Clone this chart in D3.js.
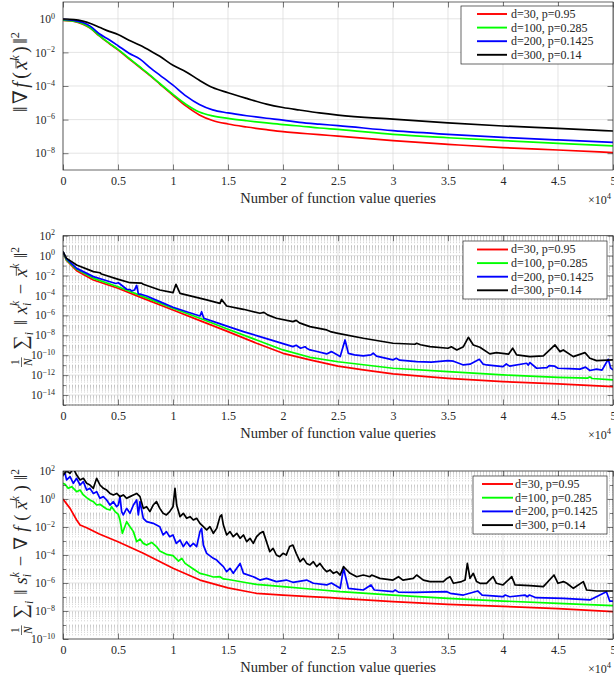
<!DOCTYPE html>
<html><head><meta charset="utf-8">
<script src="https://cdn.jsdelivr.net/npm/d3@7/dist/d3.min.js"></script>
<style>
body{margin:0;background:#fff}
svg{display:block;font-family:"Liberation Serif","DejaVu Serif",serif}
text{font-family:"Liberation Serif","DejaVu Serif",serif;fill:#262626}
</style></head><body>
<svg id="c" width="614" height="681"></svg>
<script>
// ---------------- DATA ----------------
const seriesNames = ["d=30, p=0.95", "d=100, p=0.285", "d=200, p=0.1425", "d=300, p=0.14"];
const seriesColors = ["#ff0000", "#00ff00", "#0000ff", "#000000"];
const xTickValues = [0, 0.5, 1, 1.5, 2, 2.5, 3, 3.5, 4, 4.5, 5];           // in units of 10^4 queries
const xTickLabels = ["0", "0.5", "1", "1.5", "2", "2.5", "3", "3.5", "4", "4.5", "5"];
const xAxisTitle = "Number of function value queries";
const p1YTickExp = [-8, -6, -4, -2, 0];
const p2YTickExp = [-14, -12, -10, -8, -6, -4, -2, 0, 2];
const p3YTickExp = [-10, -8, -6, -4, -2, 0, 2];

// values are log10 of the plotted quantity, x in units of 10^4
const p1_x = [0, 0.1, 0.18, 0.25, 0.33, 0.42, 0.5, 0.6, 0.7, 0.8, 0.88, 1.0, 1.12, 1.24, 1.36, 1.5, 1.67, 1.85, 2.0, 2.15, 2.33, 2.5, 3, 3.5, 4, 4.5, 5];
const p1_red   = [-0.1, -0.15, -0.32, -0.57, -1.02, -1.47, -1.85, -2.38, -2.9, -3.43, -3.88, -4.55, -5.2, -5.72, -6.05, -6.26, -6.44, -6.6, -6.72, -6.8, -6.9, -6.98, -7.25, -7.47, -7.67, -7.81, -7.96];
const p1_green = [-0.08, -0.14, -0.3, -0.55, -1.0, -1.45, -1.82, -2.35, -2.87, -3.4, -3.85, -4.5, -5.1, -5.55, -5.78, -5.93, -6.07, -6.2, -6.3, -6.38, -6.5, -6.58, -6.88, -7.08, -7.25, -7.41, -7.57];
const p1_blue  = [-0.04, -0.1, -0.22, -0.45, -0.89, -1.25, -1.6, -2.05, -2.4, -2.95, -3.35, -3.95, -4.6, -5.1, -5.42, -5.6, -5.77, -5.92, -6.03, -6.16, -6.27, -6.36, -6.66, -6.88, -7.06, -7.21, -7.35];
const p1_black = [-0.02, -0.05, -0.14, -0.28, -0.5, -0.75, -0.93, -1.28, -1.58, -1.93, -2.23, -2.77, -3.16, -3.66, -4.09, -4.4, -4.74, -5.08, -5.28, -5.43, -5.6, -5.73, -5.97, -6.19, -6.38, -6.52, -6.68];

const p2_red = [[0,0.39],[0.03,-0.45],[0.124,-1.51],[0.276,-2.45],[0.5,-3.28],[0.73,-4.29],[1.0,-5.46],[1.245,-6.53],[1.5,-7.63],[1.76,-8.8],[2.0,-9.81],[2.245,-10.47],[2.5,-11.1],[2.73,-11.48],[3.0,-11.88],[3.5,-12.32],[4.0,-12.65],[4.5,-12.88],[5.0,-13.15]];
const p2_green = [[0,0.39],[0.03,-0.4],[0.124,-1.38],[0.276,-2.28],[0.5,-3.12],[0.73,-4.12],[1.0,-5.29],[1.245,-6.29],[1.5,-7.4],[1.76,-8.47],[2.0,-9.47],[2.245,-10.21],[2.5,-10.66],[3.0,-11.31],[3.5,-11.65],[4.0,-11.98],[4.5,-12.22],[4.77,-12.3],[4.79,-12.18],[4.81,-12.34],[5.0,-12.48]];
const p2_blue = [[0,0.39],[0.03,-0.3],[0.124,-1.28],[0.276,-2.11],[0.427,-2.62],[0.48,-2.8],[0.503,-2.72],[0.53,-2.95],[0.579,-3.38],[0.61,-3.42],[0.624,-3.55],[0.65,-3.45],[0.67,-3.0],[0.685,-3.85],[0.715,-3.9],[0.76,-4.05],[0.88,-4.62],[1.0,-5.19],[1.124,-5.63],[1.245,-6.06],[1.26,-5.63],[1.28,-6.29],[1.397,-6.73],[1.503,-7.13],[1.64,-7.63],[1.79,-8.13],[1.94,-8.64],[2.09,-9.14],[2.12,-9.0],[2.16,-9.3],[2.2,-9.15],[2.215,-9.3],[2.245,-9.47],[2.3,-9.6],[2.397,-9.87],[2.44,-9.64],[2.5,-10.0],[2.52,-10.14],[2.564,-8.47],[2.594,-9.81],[2.65,-9.97],[2.73,-10.07],[2.8,-9.97],[2.82,-9.8],[2.85,-10.1],[3.0,-10.47],[3.03,-10.31],[3.06,-10.5],[3.215,-10.64],[3.35,-10.7],[3.5,-10.54],[3.55,-10.6],[3.64,-10.98],[3.7,-10.9],[3.785,-10.41],[3.82,-10.9],[3.85,-10.98],[4.0,-11.14],[4.03,-10.88],[4.06,-11.1],[4.215,-10.81],[4.23,-11.0],[4.245,-10.74],[4.306,-11.31],[4.4,-11.25],[4.42,-11.05],[4.47,-11.1],[4.5,-11.31],[4.6,-11.35],[4.7,-11.4],[4.75,-11.2],[4.79,-11.54],[4.85,-11.4],[4.9,-11.5],[4.957,-10.41],[4.98,-11.3],[5.0,-11.48]];
const p2_black = [[0,0.39],[0.03,-0.25],[0.124,-0.94],[0.276,-1.61],[0.336,-1.72],[0.35,-1.85],[0.503,-2.38],[0.609,-2.72],[0.715,-2.76],[0.73,-2.88],[0.88,-3.45],[1.0,-3.72],[1.027,-2.88],[1.064,-3.79],[1.185,-4.12],[1.306,-4.45],[1.427,-4.79],[1.442,-4.4],[1.488,-5.06],[1.64,-5.39],[1.79,-5.79],[1.827,-5.7],[1.86,-5.95],[1.94,-6.29],[2.09,-6.63],[2.12,-6.5],[2.15,-6.75],[2.245,-7.13],[2.397,-7.46],[2.43,-7.63],[2.5,-7.8],[2.73,-8.3],[3.0,-8.8],[3.2,-8.9],[3.215,-8.8],[3.25,-8.95],[3.336,-9.14],[3.5,-9.3],[3.53,-9.15],[3.58,-9.47],[3.64,-9.14],[3.685,-8.2],[3.73,-8.97],[3.79,-9.2],[3.88,-9.87],[3.94,-9.74],[4.05,-9.9],[4.088,-9.3],[4.124,-9.97],[4.245,-10.14],[4.367,-10.07],[4.473,-8.97],[4.518,-9.64],[4.548,-9.47],[4.639,-10.14],[4.745,-9.74],[4.79,-10.31],[4.85,-10.54],[4.95,-10.5],[5.0,-10.47]];

const p3_red = [[0,0.0],[0.064,-0.67],[0.124,-1.5],[0.155,-1.86],[0.215,-2.05],[0.33,-2.5],[0.5,-3.05],[0.73,-3.88],[1.0,-4.95],[1.245,-5.79],[1.5,-6.35],[1.76,-6.74],[2.0,-6.86],[2.245,-6.98],[2.43,-7.05],[2.52,-7.1],[3.0,-7.33],[3.5,-7.52],[4.0,-7.67],[4.5,-7.83],[5.0,-8.05]];
const p3_green = [[0,1.12],[0.018,1.05],[0.048,0.76],[0.079,0.88],[0.124,0.52],[0.155,0.64],[0.185,0.29],[0.215,0.1],[0.245,-0.07],[0.276,-0.19],[0.306,-0.43],[0.336,-0.38],[0.367,-0.55],[0.397,-0.71],[0.427,-0.79],[0.442,-0.55],[0.473,-0.9],[0.503,-1.1],[0.518,-1.5],[0.54,-2.45],[0.579,-1.62],[0.609,-1.98],[0.64,-2.33],[0.67,-3.05],[0.7,-2.86],[0.73,-3.17],[0.76,-3.29],[0.806,-3.1],[0.85,-3.4],[0.88,-3.71],[0.94,-3.95],[1.0,-4.05],[1.05,-4.43],[1.08,-4.24],[1.11,-4.6],[1.185,-5.0],[1.245,-5.31],[1.306,-5.43],[1.367,-5.57],[1.427,-5.55],[1.458,-5.71],[1.503,-5.75],[1.67,-5.98],[1.76,-6.1],[2.0,-6.26],[2.245,-6.43],[2.52,-6.62],[3.0,-6.86],[3.5,-7.1],[4.0,-7.29],[4.5,-7.45],[5.0,-7.62]];
const p3_blue = [[0,1.71],[0.018,1.83],[0.033,1.36],[0.064,1.6],[0.094,1.12],[0.124,1.48],[0.155,1.0],[0.185,1.24],[0.215,0.64],[0.245,0.76],[0.276,0.4],[0.306,0.52],[0.336,0.05],[0.367,0.17],[0.397,-0.07],[0.427,-0.43],[0.458,-0.19],[0.488,-0.55],[0.503,-0.43],[0.518,0.17],[0.533,-0.9],[0.548,-1.14],[0.579,-0.67],[0.609,-1.02],[0.64,-0.43],[0.67,-0.07],[0.685,-1.14],[0.7,-0.19],[0.73,-1.38],[0.76,-1.62],[0.82,-1.74],[0.88,-1.98],[0.91,-2.57],[0.94,-2.33],[0.97,-2.69],[1.0,-2.57],[1.03,-3.17],[1.064,-2.93],[1.094,-3.4],[1.124,-3.05],[1.155,-3.4],[1.185,-3.17],[1.215,-3.4],[1.245,-2.33],[1.26,-2.1],[1.276,-3.29],[1.306,-3.88],[1.367,-4.24],[1.397,-4.36],[1.427,-4.6],[1.458,-4.83],[1.488,-5.19],[1.518,-4.95],[1.548,-5.31],[1.61,-4.6],[1.64,-5.31],[1.73,-5.55],[1.79,-5.79],[1.85,-5.67],[1.94,-5.9],[2.03,-5.79],[2.09,-5.95],[2.215,-5.79],[2.276,-6.02],[2.397,-6.14],[2.44,-6.0],[2.52,-6.38],[2.55,-4.95],[2.565,-5.43],[2.594,-6.38],[2.73,-6.5],[2.8,-6.14],[2.83,-6.5],[3.0,-6.62],[3.02,-6.5],[3.05,-6.65],[3.2,-6.67],[3.49,-6.62],[3.52,-6.74],[3.64,-6.86],[3.77,-6.57],[3.81,-6.86],[4.0,-6.98],[4.02,-6.86],[4.06,-6.98],[4.2,-6.86],[4.22,-6.98],[4.24,-6.86],[4.3,-7.05],[4.55,-7.1],[4.79,-7.21],[4.94,-6.62],[4.97,-7.29],[5.0,-7.29]];
const p3_black = [[0,1.71],[0.033,2.0],[0.064,1.83],[0.094,2.19],[0.124,1.71],[0.155,1.36],[0.185,1.48],[0.215,1.12],[0.245,1.0],[0.276,0.76],[0.306,1.48],[0.321,1.24],[0.336,1.0],[0.367,0.76],[0.397,0.64],[0.427,0.4],[0.458,0.29],[0.488,0.4],[0.518,0.17],[0.548,0.29],[0.579,0.05],[0.609,0.17],[0.64,0.29],[0.67,0.4],[0.7,0.17],[0.73,-0.67],[0.76,-0.55],[0.79,-0.9],[0.82,-0.43],[0.85,-0.19],[0.88,-0.67],[0.91,-1.02],[0.94,-1.14],[0.97,-0.9],[1.0,-0.55],[1.018,0.76],[1.033,-0.43],[1.064,-1.26],[1.094,-1.02],[1.124,-1.38],[1.155,-1.26],[1.185,-1.5],[1.215,-1.38],[1.245,-1.74],[1.276,-1.98],[1.306,-2.21],[1.336,-1.98],[1.367,-2.45],[1.397,-2.1],[1.427,-1.26],[1.442,-1.14],[1.458,-1.86],[1.488,-2.57],[1.518,-2.33],[1.548,-2.69],[1.58,-2.45],[1.61,-2.81],[1.64,-2.57],[1.67,-3.05],[1.7,-2.81],[1.73,-3.17],[1.76,-2.69],[1.79,-2.45],[1.82,-2.33],[1.85,-3.05],[1.88,-3.76],[1.91,-3.52],[1.94,-4.0],[1.97,-4.12],[2.0,-3.88],[2.03,-4.0],[2.06,-3.4],[2.09,-3.29],[2.12,-3.88],[2.155,-4.48],[2.185,-4.24],[2.215,-4.6],[2.245,-4.71],[2.276,-4.48],[2.306,-4.83],[2.336,-4.6],[2.367,-4.95],[2.397,-5.19],[2.427,-5.07],[2.458,-5.31],[2.488,-5.19],[2.52,-5.43],[2.55,-4.83],[2.58,-5.07],[2.61,-5.31],[2.67,-5.55],[2.73,-5.43],[2.79,-5.55],[2.806,-5.43],[2.88,-5.67],[3.0,-5.79],[3.05,-5.55],[3.09,-5.79],[3.185,-5.67],[3.215,-5.43],[3.276,-5.79],[3.336,-5.9],[3.458,-5.9],[3.49,-5.67],[3.518,-5.55],[3.55,-6.02],[3.624,-5.9],[3.655,-5.79],[3.676,-4.6],[3.7,-5.67],[3.73,-5.31],[3.76,-5.9],[3.79,-6.02],[3.85,-6.02],[3.91,-5.55],[3.94,-6.02],[4.0,-6.14],[4.08,-5.55],[4.11,-6.14],[4.245,-6.19],[4.367,-6.26],[4.464,-5.43],[4.5,-6.02],[4.55,-5.9],[4.58,-6.02],[4.64,-6.38],[4.73,-5.9],[4.76,-6.5],[4.85,-6.57],[5.0,-6.57]];

// ---------------- LAYOUT ----------------
const svg = d3.select("#c");
svg.append("rect").attr("width", 614).attr("height", 681).attr("fill", "#fff");
const X0 = 63, X1 = 613;
const x = d3.scaleLinear().domain([0, 5]).range([X0, X1]);
const AX = "#262626";

const p1series = [p1_red, p1_green, p1_blue, p1_black].map(v => v.map((e, i) => [p1_x[i], e]));

const panels = [
  {top: 2, bottom: 170, ymin: -9, ymax: 1, ticks: p1YTickExp, minor: false,
   series: p1series, curve: d3.curveMonotoneX,
   legend: {x0: 461, x1: 613, y0: 6, y1: 64, lx0: 477, lx1: 507, tx: 511, ty0: 14, dy: 13.6},
   ylab: {kind: 1, bx: 27, cy: 72, len: 80, fs: 20}},
  {top: 235.7, bottom: 405, ymin: -15, ymax: 2, ticks: p2YTickExp, minor: true,
   series: [p2_red, p2_green, p2_blue, p2_black], curve: d3.curveLinear,
   legend: {x0: 463, x1: 607, y0: 241, y1: 299, lx0: 477, lx1: 508, tx: 511, ty0: 249.5, dy: 13.6},
   ylab: {kind: 2, bx: 26.5, cy: 307, len: 120, fs: 18.5}},
  {top: 471, bottom: 639, ymin: -10, ymax: 2, ticks: p3YTickExp, minor: true,
   series: [p3_red, p3_green, p3_blue, p3_black], curve: d3.curveLinear,
   legend: {x0: 473, x1: 607, y0: 476, y1: 534, lx0: 482, lx1: 513, tx: 515, ty0: 484, dy: 13.7},
   ylab: {kind: 3, bx: 26.5, cy: 552, len: 166, fs: 18.5}}
];

function supLabel(sel, base, sup, fsBase, fsSup) {
  sel.text(null);
  sel.append("tspan").attr("font-size", fsBase).text(base);
  sel.append("tspan").attr("font-size", fsSup).attr("dy", "-0.55em").text(sup);
}

// Math label builder (horizontal; rotated later)
function buildMath(g, items, fs, gap) {
  let cx = 0;
  items.forEach((it, idx) => {
    const extra = idx < items.length - 1 ? gap : 0;
    if (it.frac) {
      const s = fs * 0.62;
      const n = g.append("text").attr("font-size", s).text(it.frac[0]);
      const d = g.append("text").attr("font-size", s).attr("font-style", "italic").text(it.frac[1]);
      const wn = n.node().getComputedTextLength(), wd = d.node().getComputedTextLength();
      const w = Math.max(wn, wd) + 2;
      n.attr("x", cx + (w - wn) / 2).attr("y", -fs * 0.4);
      d.attr("x", cx + (w - wd) / 2).attr("y", fs * 0.3);
      g.append("line").attr("x1", cx).attr("x2", cx + w).attr("y1", -fs * 0.27).attr("y2", -fs * 0.27)
        .attr("stroke", AX).attr("stroke-width", 0.7);
      cx += w + fs * 0.1 + extra;
      return;
    }
    const sc = it.s || 1;
    const t = g.append("text").attr("x", cx).attr("y", it.dy || 0).attr("font-size", fs * sc)
      .attr("font-style", it.it ? "italic" : null).text(it.t);
    const w = t.node().getComputedTextLength();
    if (it.bar) {
      g.append("line").attr("x1", cx + w * 0.15).attr("x2", cx + w + fs * 0.04)
        .attr("y1", -fs * 0.55).attr("y2", -fs * 0.55).attr("stroke", AX).attr("stroke-width", 0.8);
    }
    let sw = 0, bw = 0;
    if (it.sup) {
      const s = g.append("text").attr("x", cx + w).attr("y", -fs * (it.supUp || 0.38)).attr("font-size", fs * 0.62)
        .attr("font-style", /[a-z]/.test(it.sup) ? "italic" : null).text(it.sup);
      sw = s.node().getComputedTextLength();
    }
    if (it.sub) {
      const s = g.append("text").attr("x", cx + w).attr("y", fs * (it.subDown || 0.24)).attr("font-size", fs * 0.62)
        .attr("font-style", "italic").text(it.sub);
      bw = s.node().getComputedTextLength();
    }
    cx += w + Math.max(sw, bw) + (it.sp || 0) + extra;
  });
  return cx;
}

const labelItems = {
  1: [{t: "\u2016"}, {t: "\u2207"}, {t: "f", it: true, sp: 1}, {t: "("}, {t: "x", it: true, bar: true, sup: "k"}, {t: ")"},
      {t: "\u2016", sup: "2", supUp: 0.42}],
  2: [{frac: ["1", "N"]}, {t: "\u2211", s: 1.1, sub: "i", subDown: 0.36, sp: 1}, {t: "\u2016"},
      {t: "x", it: true, sup: "k", sub: "i", sp: 1}, {t: "\u2212", sp: 1}, {t: "x", it: true, bar: true, sup: "k"},
      {t: "\u2016", sup: "2", supUp: 0.42}],
  3: [{frac: ["1", "N"]}, {t: "\u2211", s: 1.1, sub: "i", subDown: 0.36, sp: 1}, {t: "\u2016"},
      {t: "s", it: true, sup: "k", sub: "i", sp: 1}, {t: "\u2212", sp: 1}, {t: "\u2207"}, {t: "f", it: true, sp: 1}, {t: "("},
      {t: "x", it: true, bar: true, sup: "k"}, {t: ")"}, {t: "\u2016", sup: "2", supUp: 0.42}]
};

panels.forEach((P, pi) => {
  const y = d3.scaleLog().domain([Math.pow(10, P.ymin), Math.pow(10, P.ymax)]).range([P.bottom, P.top]);
  const g = svg.append("g");
  const cid = "clip" + pi;
  svg.append("clipPath").attr("id", cid).append("rect")
    .attr("x", X0).attr("y", P.top).attr("width", X1 - X0).attr("height", P.bottom - P.top);

  // minor grid
  if (P.minor) {
    const mv = [];
    for (let k = P.ymin; k < P.ymax; k++) {
      if (!P.ticks.includes(k)) mv.push(Math.pow(10, k));
      for (let m = 2; m <= 9; m++) mv.push(m * Math.pow(10, k));
    }
    g.append("g").selectAll("line").data(mv).join("line")
      .attr("x1", X0).attr("x2", X1).attr("y1", d => y(d)).attr("y2", d => y(d))
      .attr("stroke", "#b4b4b4").attr("stroke-width", 0.6).attr("stroke-dasharray", "1,2");
  }
  // major grid
  const gg = g.append("g");
  gg.selectAll("line.h").data(P.ticks).join("line").attr("class", "h")
    .attr("x1", X0).attr("x2", X1).attr("y1", d => y(Math.pow(10, d))).attr("y2", d => y(Math.pow(10, d)))
    .attr("stroke", "#d9d9d9").attr("stroke-width", 0.7);
  gg.selectAll("line.v").data(xTickValues).join("line").attr("class", "v")
    .attr("x1", d => x(d)).attr("x2", d => x(d)).attr("y1", P.top).attr("y2", P.bottom)
    .attr("stroke", "#d9d9d9").attr("stroke-width", 0.7);

  // series
  const line = d3.line().x(d => x(d[0])).y(d => y(Math.pow(10, d[1]))).curve(P.curve);
  const lg = g.append("g").attr("clip-path", `url(#${cid})`);
  P.series.forEach((s, i) => {
    lg.append("path").datum(s).attr("d", line).attr("fill", "none")
      .attr("stroke", seriesColors[i]).attr("stroke-width", 1.7).attr("stroke-linejoin", "round");
  });

  // axes
  const ts = 5.5;
  const xb = g.append("g").attr("transform", `translate(0,${P.bottom})`)
    .call(d3.axisBottom(x).tickValues(xTickValues).tickFormat((d, i) => xTickLabels[i]).tickSize(-ts).tickPadding(6.5));
  g.append("g").attr("transform", `translate(0,${P.top})`)
    .call(d3.axisTop(x).tickValues(xTickValues).tickFormat("").tickSize(-ts));
  const yl = g.append("g").attr("transform", `translate(${X0},0)`)
    .call(d3.axisLeft(y).tickValues(P.ticks.map(e => Math.pow(10, e))).tickSize(-ts).tickPadding(8)
      .tickFormat(d => String(Math.round(Math.log10(d)))));
  g.append("g").attr("transform", `translate(${X1},0)`)
    .call(d3.axisRight(y).tickValues(P.ticks.map(e => Math.pow(10, e))).tickSize(-ts).tickFormat(""));
  if (P.minor) {
    const mt = [];
    for (let k = P.ymin; k <= P.ymax; k++) if (!P.ticks.includes(k)) mt.push(Math.pow(10, k));
    g.append("g").attr("transform", `translate(${X0},0)`).call(d3.axisLeft(y).tickValues(mt).tickSize(-3).tickFormat(""));
    g.append("g").attr("transform", `translate(${X1},0)`).call(d3.axisRight(y).tickValues(mt).tickSize(-3).tickFormat(""));
  }
  g.selectAll(".tick line").attr("stroke", AX).attr("stroke-width", 0.6);
  g.selectAll(".domain").remove();
  g.selectAll("g").attr("font-family", null);
  xb.selectAll("text").attr("font-size", 12).attr("fill", AX);
  yl.selectAll("text").each(function(d) {
    const e = Math.round(Math.log10(d));
    const sel = d3.select(this).attr("fill", AX).attr("dy", "0.36em");
    supLabel(sel, "10", e < 0 ? "\u2212" + (-e) : String(e), 11.5, 8);
  });

  g.append("rect").attr("x", X0).attr("y", P.top).attr("width", X1 - X0).attr("height", P.bottom - P.top)
    .attr("fill", "none").attr("stroke", AX).attr("stroke-width", 0.7);

  // x title & multiplier
  g.append("text").attr("x", (X0 + X1) / 2).attr("y", P.bottom + 33).attr("text-anchor", "middle")
    .attr("font-size", 14.5).text(xAxisTitle);
  const mult = g.append("text").attr("x", 611).attr("y", P.bottom + 34).attr("text-anchor", "end");
  mult.append("tspan").attr("font-size", 12).text("\u00d710");
  mult.append("tspan").attr("font-size", 8.5).attr("dy", "-0.6em").text("4");

  // legend
  const L = P.legend;
  const lgd = g.append("g");
  lgd.append("rect").attr("x", L.x0).attr("y", L.y0).attr("width", L.x1 - L.x0).attr("height", L.y1 - L.y0)
    .attr("fill", "#fff").attr("stroke", AX).attr("stroke-width", 0.7);
  seriesNames.forEach((n, i) => {
    const yy = L.ty0 + i * L.dy;
    lgd.append("line").attr("x1", L.lx0).attr("x2", L.lx1).attr("y1", yy).attr("y2", yy)
      .attr("stroke", seriesColors[i]).attr("stroke-width", 1.9);
    lgd.append("text").attr("x", L.tx).attr("y", yy).attr("dy", "0.33em").attr("font-size", 12).text(n);
  });

  // y label (math): fixed font size, spacing stretched to reach the wanted length
  const Y = P.ylab;
  const items = labelItems[Y.kind];
  const probe = g.append("g");
  const w0 = buildMath(probe, items, Y.fs, 0);
  probe.remove();
  const gap = Math.max(0, (Y.len - w0) / (items.length - 1));
  const mg = g.append("g");
  const w = buildMath(mg, items, Y.fs, gap);
  mg.attr("transform", `translate(${Y.bx},${Y.cy + w / 2}) rotate(-90)`);
});
</script>
</body></html>
